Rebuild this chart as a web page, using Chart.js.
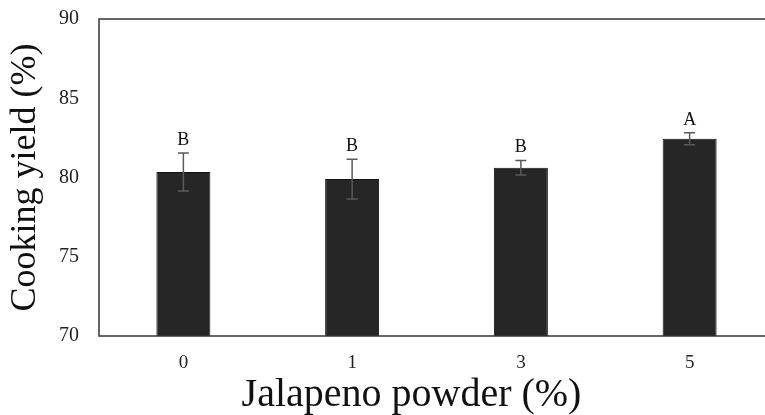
<!DOCTYPE html>
<html>
<head>
    <title>Cooking yield</title>
    <script src="https://cdn.jsdelivr.net/npm/chart.js"></script>
    <style>
        body {
            margin: 0;
            padding: 0;
            overflow: hidden;
            background: #fff;
        }

        #chartBox {
            width: 780px;  /* plot runs a little past the right edge, as in the figure */
            height: 415px;
        }
    </style>
</head>
<body>

<div id="chartBox">
    <canvas id="yieldChart"></canvas>
</div>

<script>
    // data
    var powder = ['0', '1', '3', '5'];
    var yieldMean = [80.35, 79.9, 80.62, 82.45];
    var yieldSD = [1.2, 1.25, 0.46, 0.38];
    var letters = ['B', 'B', 'B', 'A'];
    var yTicks = [70, 75, 80, 85, 90];

    var serif = "'Liberation Serif', 'DejaVu Serif', serif";

    // error bars + significance letters
    var errorBars = {
        id: 'errorBars',
        afterDatasetsDraw: function (chart) {
            var ctx = chart.ctx;
            var yScale = chart.scales.y;
            var meta = chart.getDatasetMeta(0);
            ctx.save();
            meta.data.forEach(function (bar, i) {
                var x = bar.x;
                var top = yScale.getPixelForValue(yieldMean[i] + yieldSD[i]);
                var bot = yScale.getPixelForValue(yieldMean[i] - yieldSD[i]);
                ctx.strokeStyle = '#5a5a5a';
                ctx.lineWidth = 1.5;
                ctx.beginPath();
                ctx.moveTo(x, top); ctx.lineTo(x, bot);
                ctx.moveTo(x - 5.5, top); ctx.lineTo(x + 5.5, top);
                ctx.moveTo(x - 5.5, bot); ctx.lineTo(x + 5.5, bot);
                ctx.stroke();

                ctx.fillStyle = '#111';
                ctx.font = '18px ' + serif;
                ctx.textAlign = 'center';
                ctx.textBaseline = 'alphabetic';
                ctx.fillText(letters[i], x, top - 8);
            });
            // frame round the plot
            var a = chart.chartArea;
            ctx.strokeStyle = '#333';
            ctx.lineWidth = 1.5;
            ctx.strokeRect(a.left, a.top, a.right - a.left, a.bottom - a.top);
            ctx.restore();
        }
    };

    var ctx = document.getElementById('yieldChart').getContext('2d');
    var chart = new Chart(ctx, {
        type: 'bar',
        data: {
            labels: powder,
            datasets: [{
                label: 'Cooking yield',
                data: yieldMean,
                backgroundColor: '#262626',
                borderColor: '#111',
                borderWidth: 1,
                barPercentage: 0.32,
                categoryPercentage: 1.0
            }]
        },
        options: {
            responsive: true,
            maintainAspectRatio: false,
            animation: false,
            layout: {
                padding: { left: 0, right: 6, top: 19, bottom: 0 }
            },
            plugins: {
                legend: { display: false },
                tooltip: { enabled: false }
            },
            scales: {
                x: {
                    grid: { display: false, drawTicks: false },
                    border: { display: false },
                    ticks: {
                        color: '#222',
                        font: { family: serif, size: 19 },
                        padding: 16
                    },
                    title: {
                        display: true,
                        // trailing spaces nudge the title left, the plot is clipped on the right
                        text: 'Jalapeno powder (%)\u00a0\u00a0\u00a0\u00a0\u00a0',
                        color: '#111',
                        font: { family: serif, size: 40, lineHeight: 1 },
                        padding: { top: 0, bottom: 0 }
                    },
                    afterFit: function (s) { s.height = 79; }
                },
                y: {
                    min: 70,
                    max: 90,
                    afterBuildTicks: function (s) {
                        s.ticks = yTicks.map(function (v) { return { value: v }; });
                    },
                    grid: { display: false, drawTicks: false },
                    border: { display: false },
                    ticks: {
                        color: '#222',
                        font: { family: serif, size: 20 },
                        padding: 20
                    },
                    title: {
                        display: true,
                        text: 'Cooking yield (%)',
                        color: '#111',
                        font: { family: serif, size: 36, lineHeight: 1 },
                        padding: { top: 8, bottom: 0 }
                    },
                    afterFit: function (s) {
                        s.width = 99;
                        // don't let tick padding push the plot top down
                        s.paddingTop = 0;
                        s.paddingBottom = 0;
                    }
                }
            }
        },
        plugins: [errorBars]
    });
</script>

</body>
</html>
